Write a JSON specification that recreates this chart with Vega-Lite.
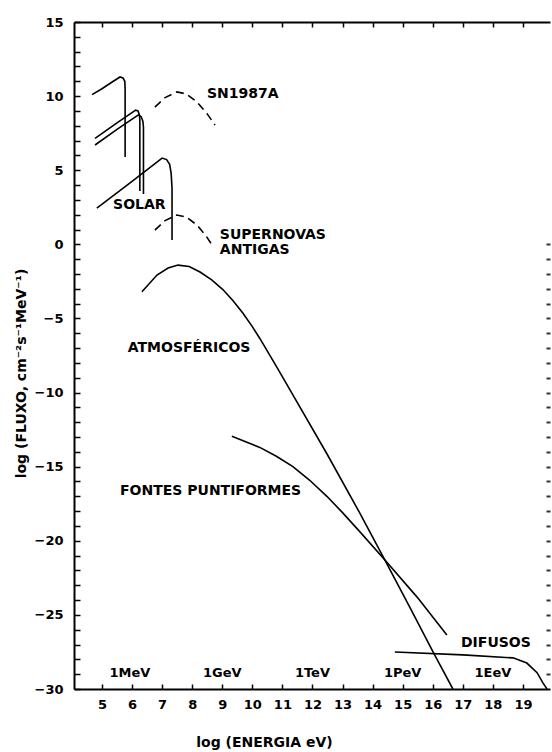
{
  "$schema": "https://vega.github.io/schema/vega-lite/v6.json",
  "width": 476,
  "height": 667,
  "autosize": {"type": "none"},
  "padding": {"left": 74, "top": 22, "right": 2, "bottom": 63},
  "background": "white",
  "config": {
    "view": {"stroke": null},
    "axis": {
      "grid": false,
      "domainColor": "black",
      "domainWidth": 2,
      "tickColor": "black",
      "tickWidth": 1.5,
      "labelColor": "black",
      "labelFont": "DejaVu Sans",
      "labelFontWeight": "bold",
      "labelFontSize": 13,
      "titleColor": "black",
      "titleFont": "DejaVu Sans",
      "titleFontWeight": "bold",
      "titleFontSize": 14
    }
  },
  "datasets": {
    "curvas": [
      {"serie": "Solar pp", "i": 1, "x": 4.67, "y": 10.1},
      {"serie": "Solar pp", "i": 2, "x": 5.0, "y": 10.5},
      {"serie": "Solar pp", "i": 3, "x": 5.3, "y": 10.9},
      {"serie": "Solar pp", "i": 4, "x": 5.6, "y": 11.29},
      {"serie": "Solar pp", "i": 5, "x": 5.7, "y": 11.22},
      {"serie": "Solar pp", "i": 6, "x": 5.76, "y": 11.0},
      {"serie": "Solar pp", "i": 7, "x": 5.77, "y": 10.5},
      {"serie": "Solar pp", "i": 8, "x": 5.77, "y": 5.9},
      {"serie": "Solar B8 a", "i": 1, "x": 4.77, "y": 7.15},
      {"serie": "Solar B8 a", "i": 2, "x": 5.5, "y": 8.2},
      {"serie": "Solar B8 a", "i": 3, "x": 6.12, "y": 9.05},
      {"serie": "Solar B8 a", "i": 4, "x": 6.2, "y": 9.0},
      {"serie": "Solar B8 a", "i": 5, "x": 6.25, "y": 8.7},
      {"serie": "Solar B8 a", "i": 6, "x": 6.26, "y": 8.3},
      {"serie": "Solar B8 a", "i": 7, "x": 6.26, "y": 3.6},
      {"serie": "Solar B8 b", "i": 1, "x": 4.77, "y": 6.7},
      {"serie": "Solar B8 b", "i": 2, "x": 5.5, "y": 7.75},
      {"serie": "Solar B8 b", "i": 3, "x": 6.2, "y": 8.72},
      {"serie": "Solar B8 b", "i": 4, "x": 6.3, "y": 8.62},
      {"serie": "Solar B8 b", "i": 5, "x": 6.36, "y": 8.3},
      {"serie": "Solar B8 b", "i": 6, "x": 6.38, "y": 7.9},
      {"serie": "Solar B8 b", "i": 7, "x": 6.38, "y": 3.4},
      {"serie": "Solar Be7", "i": 1, "x": 4.83, "y": 2.45},
      {"serie": "Solar Be7", "i": 2, "x": 6.0, "y": 4.25},
      {"serie": "Solar Be7", "i": 3, "x": 7.0, "y": 5.82},
      {"serie": "Solar Be7", "i": 4, "x": 7.15, "y": 5.72},
      {"serie": "Solar Be7", "i": 5, "x": 7.25, "y": 5.4},
      {"serie": "Solar Be7", "i": 6, "x": 7.3, "y": 4.8},
      {"serie": "Solar Be7", "i": 7, "x": 7.33, "y": 3.8},
      {"serie": "Solar Be7", "i": 8, "x": 7.33, "y": 0.3},
      {"serie": "SN1987A", "i": 1, "x": 6.76, "y": 9.26},
      {"serie": "SN1987A", "i": 2, "x": 7.1, "y": 9.9},
      {"serie": "SN1987A", "i": 3, "x": 7.49, "y": 10.28},
      {"serie": "SN1987A", "i": 4, "x": 7.8, "y": 10.15},
      {"serie": "SN1987A", "i": 5, "x": 8.16, "y": 9.6},
      {"serie": "SN1987A", "i": 6, "x": 8.5, "y": 8.8},
      {"serie": "SN1987A", "i": 7, "x": 8.76, "y": 8.05},
      {"serie": "Supernovas antigas", "i": 1, "x": 6.76, "y": 0.96},
      {"serie": "Supernovas antigas", "i": 2, "x": 7.1, "y": 1.6},
      {"serie": "Supernovas antigas", "i": 3, "x": 7.49, "y": 1.98},
      {"serie": "Supernovas antigas", "i": 4, "x": 7.8, "y": 1.85},
      {"serie": "Supernovas antigas", "i": 5, "x": 8.16, "y": 1.3},
      {"serie": "Supernovas antigas", "i": 6, "x": 8.45, "y": 0.6},
      {"serie": "Supernovas antigas", "i": 7, "x": 8.68, "y": -0.1},
      {"serie": "Atmosféricos", "i": 1, "x": 6.33, "y": -3.2},
      {"serie": "Atmosféricos", "i": 2, "x": 6.83, "y": -2.07},
      {"serie": "Atmosféricos", "i": 3, "x": 7.2, "y": -1.6},
      {"serie": "Atmosféricos", "i": 4, "x": 7.53, "y": -1.4},
      {"serie": "Atmosféricos", "i": 5, "x": 7.9, "y": -1.5},
      {"serie": "Atmosféricos", "i": 6, "x": 8.26, "y": -1.87},
      {"serie": "Atmosféricos", "i": 7, "x": 8.65, "y": -2.4},
      {"serie": "Atmosféricos", "i": 8, "x": 9.02, "y": -3.05},
      {"serie": "Atmosféricos", "i": 9, "x": 9.36, "y": -3.8},
      {"serie": "Atmosféricos", "i": 10, "x": 9.69, "y": -4.65},
      {"serie": "Atmosféricos", "i": 11, "x": 10.0, "y": -5.55},
      {"serie": "Atmosféricos", "i": 12, "x": 10.25, "y": -6.35},
      {"serie": "Atmosféricos", "i": 13, "x": 10.82, "y": -8.3},
      {"serie": "Atmosféricos", "i": 14, "x": 11.32, "y": -10.05},
      {"serie": "Atmosféricos", "i": 15, "x": 12.48, "y": -14.13},
      {"serie": "Atmosféricos", "i": 16, "x": 13.58, "y": -18.15},
      {"serie": "Atmosféricos", "i": 17, "x": 14.41, "y": -21.3},
      {"serie": "Atmosféricos", "i": 18, "x": 15.24, "y": -24.5},
      {"serie": "Atmosféricos", "i": 19, "x": 16.01, "y": -27.5},
      {"serie": "Atmosféricos", "i": 20, "x": 16.67, "y": -30.0},
      {"serie": "Fontes puntiformes", "i": 1, "x": 9.32, "y": -12.94},
      {"serie": "Fontes puntiformes", "i": 2, "x": 10.25, "y": -13.7},
      {"serie": "Fontes puntiformes", "i": 3, "x": 10.8, "y": -14.3},
      {"serie": "Fontes puntiformes", "i": 4, "x": 11.35, "y": -15.0},
      {"serie": "Fontes puntiformes", "i": 5, "x": 11.9, "y": -15.9},
      {"serie": "Fontes puntiformes", "i": 6, "x": 12.48, "y": -17.0},
      {"serie": "Fontes puntiformes", "i": 7, "x": 13.0, "y": -18.1},
      {"serie": "Fontes puntiformes", "i": 8, "x": 13.58, "y": -19.4},
      {"serie": "Fontes puntiformes", "i": 9, "x": 14.41, "y": -21.3},
      {"serie": "Fontes puntiformes", "i": 10, "x": 15.48, "y": -23.8},
      {"serie": "Fontes puntiformes", "i": 11, "x": 16.47, "y": -26.36},
      {"serie": "Difusos", "i": 1, "x": 14.74, "y": -27.5},
      {"serie": "Difusos", "i": 2, "x": 17.0, "y": -27.7},
      {"serie": "Difusos", "i": 3, "x": 18.67, "y": -27.9},
      {"serie": "Difusos", "i": 4, "x": 19.13, "y": -28.25},
      {"serie": "Difusos", "i": 5, "x": 19.47, "y": -28.9},
      {"serie": "Difusos", "i": 6, "x": 19.67, "y": -29.6},
      {"serie": "Difusos", "i": 7, "x": 19.8, "y": -30.0}
    ],
    "rotulos": [
      {"rotulo": "SN1987A", "x": 8.49, "y": 10.14},
      {"rotulo": "SOLAR", "x": 5.37, "y": 2.65},
      {"rotulo": "SUPERNOVAS\nANTIGAS", "x": 8.92, "y": 0.63},
      {"rotulo": "ATMOSFÉRICOS", "x": 5.86, "y": -7.0},
      {"rotulo": "FONTES PUNTIFORMES", "x": 5.6, "y": -16.65},
      {"rotulo": "DIFUSOS", "x": 16.94, "y": -26.9}
    ],
    "energias": [
      {"rotulo": "1MeV", "x": 5.93, "y": -28.93},
      {"rotulo": "1GeV", "x": 9.0, "y": -28.93},
      {"rotulo": "1TeV", "x": 12.0, "y": -28.93},
      {"rotulo": "1PeV", "x": 15.0, "y": -28.93},
      {"rotulo": "1EeV", "x": 18.0, "y": -28.93}
    ]
  },
  "layer": [
    {
      "data": {"name": "curvas"},
      "transform": [{"filter": "datum.serie !== 'SN1987A' && datum.serie !== 'Supernovas antigas'"}],
      "mark": {"type": "line", "color": "black", "strokeWidth": 1.6, "clip": true},
      "encoding": {
        "x": {
          "field": "x", "type": "quantitative",
          "scale": {"domain": [4.07, 19.9], "nice": false, "zero": false},
          "axis": {
            "orient": "bottom",
            "values": [5, 6, 7, 8, 9, 10, 11, 12, 13, 14, 15, 16, 17, 18, 19],
            "tickSize": -5,
            "labelPadding": 14,
            "labelBaseline": "top",
            "title": "log (ENERGIA eV)",
            "titleX": 190,
            "titleY": 53,
            "titleBaseline": "middle",
            "titleAnchor": null,
            "titleAlign": "center"
          }
        },
        "y": {
          "field": "y", "type": "quantitative",
          "scale": {"domain": [-30, 15], "nice": false, "zero": false},
          "axis": {
            "orient": "left",
            "values": [-30, -29, -28, -27, -26, -25, -24, -23, -22, -21, -20, -19, -18, -17, -16, -15, -14, -13, -12, -11, -10, -9, -8, -7, -6, -5, -4, -3, -2, -1, 0, 1, 2, 3, 4, 5, 6, 7, 8, 9, 10, 11, 12, 13, 14, 15],
            "labelExpr": "datum.value % 5 === 0 ? datum.label : ''",
            "tickSize": -6,
            "labelPadding": 17,
            "title": "log (FLUXO, cm⁻²s⁻¹MeV⁻¹)",
            "titleX": -53,
            "titleY": 351,
            "titleAngle": -90,
            "titleBaseline": "middle",
            "titleAlign": "center",
            "titleAnchor": null
          }
        },
        "detail": {"field": "serie"},
        "order": {"field": "i", "type": "quantitative"}
      }
    },
    {
      "data": {"name": "curvas"},
      "transform": [{"filter": "datum.serie === 'SN1987A' || datum.serie === 'Supernovas antigas'"}],
      "mark": {"type": "line", "color": "black", "strokeWidth": 1.6, "strokeDash": [8, 5]},
      "encoding": {
        "x": {
          "field": "x", "type": "quantitative",
          "scale": {"domain": [4.07, 19.9], "nice": false, "zero": false},
          "axis": {
            "orient": "top",
            "values": [5, 6, 7, 8, 9, 10, 11, 12, 13, 14, 15, 16, 17, 18, 19],
            "labels": false,
            "tickSize": -5,
            "title": null
          }
        },
        "y": {
          "field": "y", "type": "quantitative",
          "scale": {"domain": [-30, 15], "nice": false, "zero": false},
          "axis": {
            "orient": "right",
            "values": [-29, -28, -27, -26, -25, -24, -23, -22, -21, -20, -19, -18, -17, -16, -15, -14, -13, -12, -11, -10, -9, -8, -7, -6, -5, -4, -3, -2, -1, 0],
            "labels": false,
            "domain": false,
            "tickSize": -4,
            "tickWidth": 2,
            "tickColor": "#333333",
            "title": null
          }
        },
        "detail": {"field": "serie"},
        "order": {"field": "i", "type": "quantitative"}
      }
    },
    {
      "data": {"name": "rotulos"},
      "mark": {"type": "text", "align": "left", "baseline": "middle", "lineBreak": "\n", "lineHeight": 15, "font": "DejaVu Sans", "fontWeight": "bold", "fontSize": 14, "color": "black"},
      "encoding": {
        "x": {"field": "x", "type": "quantitative", "axis": null},
        "y": {"field": "y", "type": "quantitative", "axis": null},
        "text": {"field": "rotulo"}
      }
    },
    {
      "data": {"name": "energias"},
      "mark": {"type": "text", "align": "center", "baseline": "middle", "font": "DejaVu Sans", "fontWeight": "bold", "fontSize": 13, "color": "black"},
      "encoding": {
        "x": {"field": "x", "type": "quantitative", "axis": null},
        "y": {"field": "y", "type": "quantitative", "axis": null},
        "text": {"field": "rotulo"}
      }
    }
  ],
  "resolve": {"axis": {"x": "independent", "y": "independent"}}
}
